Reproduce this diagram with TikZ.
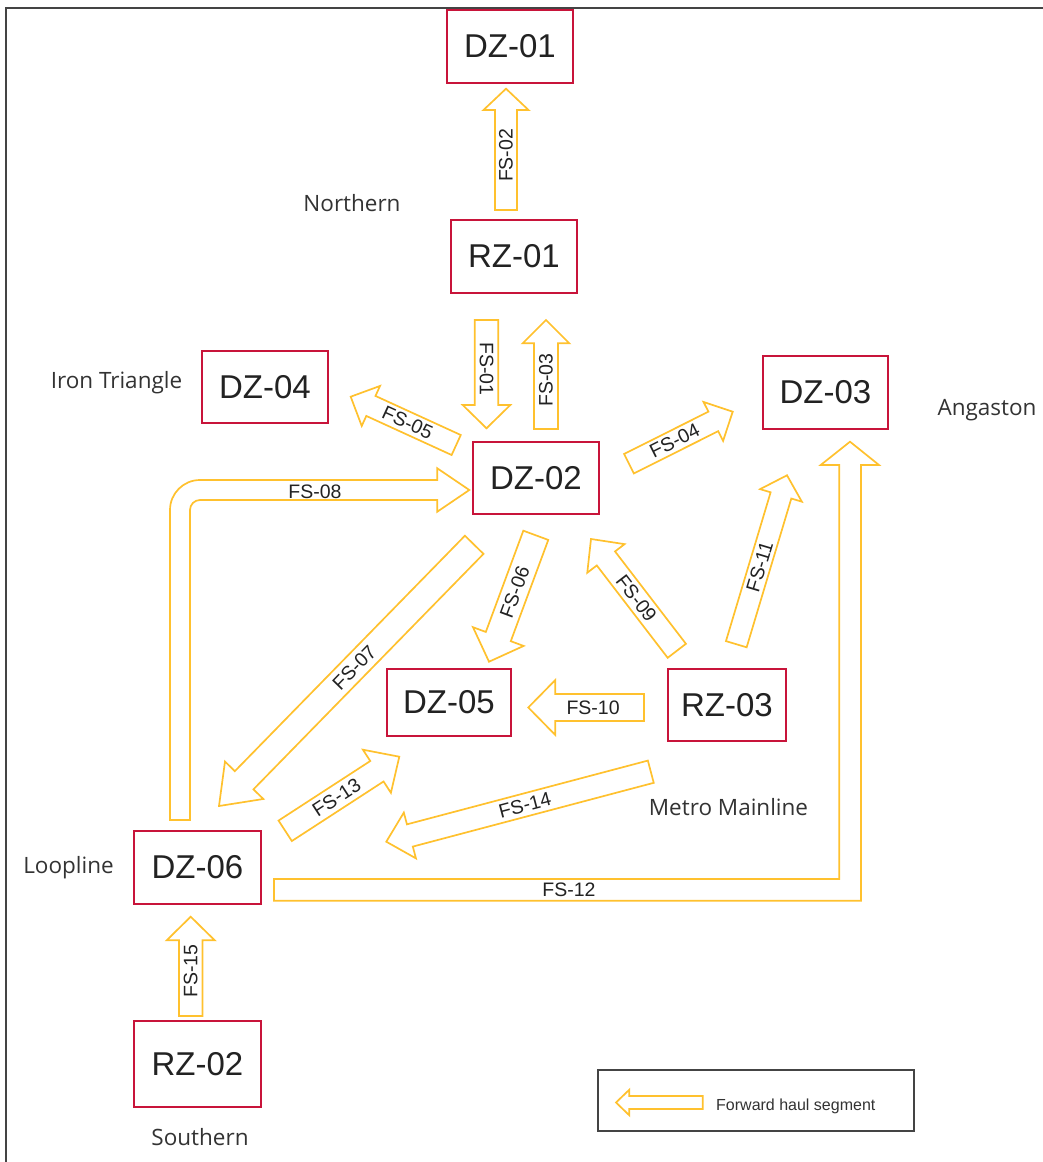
\documentclass[tikz,border=0pt]{standalone}
\usepackage{fontspec}
\setmainfont{Liberation Sans}
\newfontfamily\regionfont{Open Sans}
\usetikzlibrary{calc}
\definecolor{fsyellow}{HTML}{FFC12E}
\definecolor{boxred}{HTML}{C8143A}
\definecolor{txtdark}{HTML}{222222}
\definecolor{regiongray}{HTML}{333333}
\definecolor{framegray}{HTML}{444444}
\tikzset{
 zone/.style={draw=boxred, line width=1.8pt, inner sep=0pt, text=txtdark, font=\fontsize{33}{40}\selectfont},
 fsline/.style={draw=fsyellow, line width=1.7pt, line join=miter},
 fslabel/.style={text=txtdark, inner sep=0pt, font=\fontsize{19.5}{23}\selectfont},
 region/.style={text=regiongray, inner sep=0pt, font=\regionfont\fontsize{22.5}{27}\selectfont},
 legendbox/.style={draw=framegray, line width=1.8pt, inner sep=0pt},
 legendtext/.style={text=regiongray, inner sep=0pt, font=\fontsize{16}{19}\selectfont},
}
% #1 tail, #2 tip, #3 shaft half width, #4 head half width, #5 head length, #6 label, #7 label angle, #8 label position
\newcommand\fsarrow[8]{%
  \coordinate (fsH) at ($(#2)!#5!(#1)$);
  \draw[fsline] ($(#1)!#3!90:(#2)$) -- ($(fsH)!#3!90:(#2)$) -- ($(fsH)!#4!90:(#2)$) -- (#2)
     -- ($(fsH)!#4!-90:(#2)$) -- ($(fsH)!#3!-90:(#2)$) -- ($(#1)!#3!-90:(#2)$) -- cycle;
  \node[fslabel, rotate=#7] at ($(#1)!#8!(#2)$) {#6};
}
\begin{document}
\begin{tikzpicture}[x=1pt, y=-1pt]
\useasboundingbox (0,0) rectangle (1043,1162);
\fill[white] (0,0) rectangle (1043,1162);
\draw[framegray, line width=2pt] (6,1162) -- (6,8) -- (1043,8);

% zones
\node[zone, minimum width=126pt, minimum height=73pt] (dz01) at (510,46.5) {DZ-01};
\node[zone, minimum width=126pt, minimum height=73pt] (rz01) at (514,256.5) {RZ-01};
\node[zone, minimum width=126pt, minimum height=72pt] (dz02) at (536,478) {DZ-02};
\node[zone, minimum width=126pt, minimum height=72pt] (dz04) at (265,387) {DZ-04};
\node[zone, minimum width=125pt, minimum height=73pt] (dz03) at (825.5,392.3) {DZ-03};
\node[zone, minimum width=124pt, minimum height=67pt] (dz05) at (449,702.5) {DZ-05};
\node[zone, minimum width=118pt, minimum height=72pt] (rz03) at (727,705) {RZ-03};
\node[zone, minimum width=127pt, minimum height=73pt] (dz06) at (197.5,867.5) {DZ-06};
\node[zone, minimum width=127pt, minimum height=86pt] (rz02) at (197.5,1064) {RZ-02};

% region labels
\node[region, anchor=base] (lnorth) at (352,211) {Northern};
\node[region, anchor=base] (liron) at (116.5,388) {Iron Triangle};
\node[region, anchor=base] (lang) at (987,415) {Angaston};
\node[region, anchor=base] (lmetro) at (728.5,815) {Metro Mainline};
\node[region, anchor=base] (lloop) at (68.5,873) {Loopline};
\node[region, anchor=base] (lsouth) at (200,1145.5) {Southern};

% arrow end points
\coordinate (fs02a) at (506,210);     \coordinate (fs02b) at (506,88.7);
\coordinate (fs01a) at (486.5,320);   \coordinate (fs01b) at (486.5,428.3);
\coordinate (fs03a) at (546,429);     \coordinate (fs03b) at (546,320);
\coordinate (fs05a) at (456.2,445);   \coordinate (fs05b) at (350.7,396.7);
\coordinate (fs04a) at (629,463.7);   \coordinate (fs04b) at (732.7,411.7);
\coordinate (fs06a) at (535.8,535.3); \coordinate (fs06b) at (489,661.7);
\coordinate (fs07a) at (474.2,544.8); \coordinate (fs07b) at (219,806);
\coordinate (fs09a) at (676.8,650.8); \coordinate (fs09b) at (591,539);
\coordinate (fs10a) at (644,707.5);   \coordinate (fs10b) at (528.3,707.5);
\coordinate (fs11a) at (736.3,644.2); \coordinate (fs11b) at (787,475.3);
\coordinate (fs13a) at (285.2,830.8); \coordinate (fs13b) at (399.3,756.7);
\coordinate (fs14a) at (650.8,771.7); \coordinate (fs14b) at (386.3,841.7);
\coordinate (fs15a) at (190.7,1016);  \coordinate (fs15b) at (190.7,916.7);

\fsarrow{fs02a}{fs02b}{11pt}{22.5pt}{21.3pt}{FS-02}{90}{0.45}
\fsarrow{fs01a}{fs01b}{11.8pt}{23.8pt}{23.3pt}{FS-01}{-90}{0.45}
\fsarrow{fs03a}{fs03b}{12pt}{23.3pt}{23.3pt}{FS-03}{90}{0.45}
\fsarrow{fs05a}{fs05b}{11pt}{22pt}{22.2pt}{FS-05}{-24.6}{0.46}
\fsarrow{fs04a}{fs04b}{10.9pt}{21.8pt}{21.7pt}{FS-04}{26.6}{0.44}
\fsarrow{fs06a}{fs06b}{13.3pt}{27pt}{26.8pt}{FS-06}{69.7}{0.45}
\fsarrow{fs07a}{fs07b}{13pt}{26.8pt}{36pt}{FS-07}{45.7}{0.47}
\fsarrow{fs09a}{fs09b}{11.5pt}{23.5pt}{24.5pt}{FS-09}{-52.5}{0.47}
\fsarrow{fs10a}{fs10b}{13.5pt}{27.5pt}{27pt}{FS-10}{0}{0.44}
\fsarrow{fs11a}{fs11b}{10.8pt}{21.8pt}{21pt}{FS-11}{73.3}{0.46}
\fsarrow{fs13a}{fs13b}{12.2pt}{25.7pt}{26.7pt}{FS-13}{33}{0.45}
\fsarrow{fs14a}{fs14b}{11.5pt}{23.7pt}{24.4pt}{FS-14}{14.8}{0.476}
\fsarrow{fs15a}{fs15b}{11.8pt}{24pt}{23.6pt}{FS-15}{90}{0.45}

% FS-08 elbow (DZ-06 -> DZ-02)
\coordinate (fs08a) at (180,820);
\coordinate (fs08b) at (469.3,490);
\draw[fsline] (190,820) -- (190,510) .. controls (190,504.5) and (194.5,500) .. (200,500)
  -- (437.3,500) -- (437.3,511.7) -- (fs08b) -- (437.3,468.3) -- (437.3,480) -- (200,480)
  .. controls (183.4,480) and (170,493.4) .. (170,510) -- (170,820) -- cycle;
\node[fslabel] (fs08l) at (315,492) {FS-08};

% FS-12 elbow (DZ-06 -> DZ-03)
\coordinate (fs12a) at (274,890);
\coordinate (fs12b) at (850,441.7);
\draw[fsline] (274,879) -- (839.3,879) -- (839.3,465) -- (820.7,465) -- (fs12b) -- (879,465)
  -- (861,465) -- (861,900.7) -- (274,900.7) -- cycle;
\node[fslabel] (fs12l) at (569,890) {FS-12};

% legend
\node[legendbox, minimum width=316pt, minimum height=61pt] (legend) at (756,1100.5) {};
\coordinate (lga) at (702.7,1102.5);
\coordinate (lgb) at (616,1102.5);
\fsarrow{lga}{lgb}{6.5pt}{12.8pt}{13.3pt}{}{0}{0.5}
\node[legendtext, anchor=base west] (legendlabel) at (716,1110) {Forward haul segment};
\end{tikzpicture}
\end{document}
